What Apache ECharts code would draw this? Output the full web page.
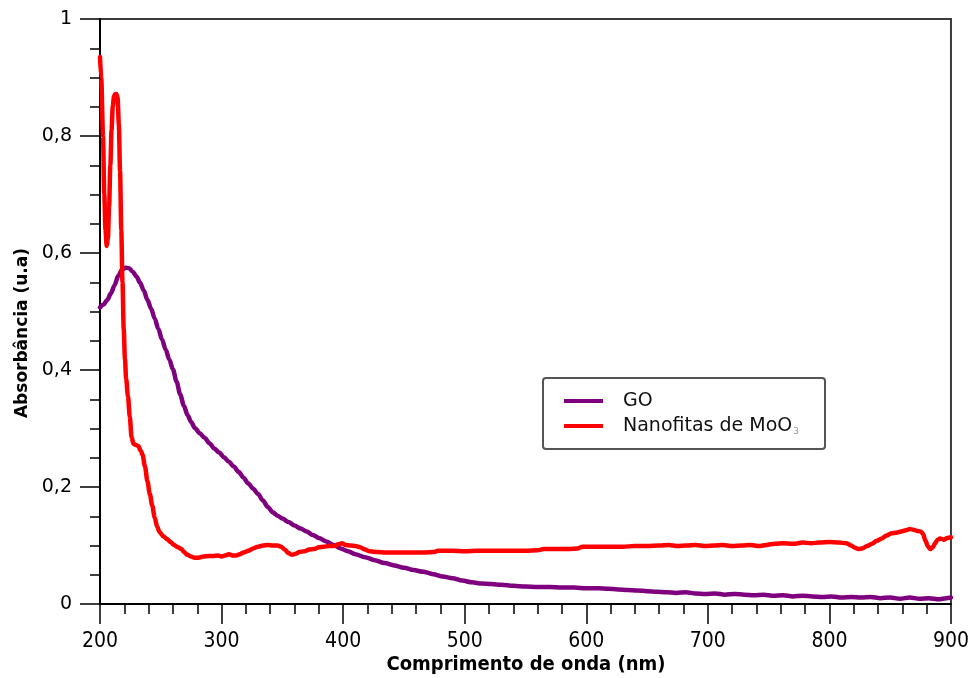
<!DOCTYPE html>
<html><head><meta charset="utf-8">
<script src="https://cdn.jsdelivr.net/npm/echarts@6/dist/echarts.min.js"></script>
<style>html,body{margin:0;padding:0;background:#fff}#c{width:972px;height:678px}</style>
</head><body><div id="c"></div>
<script>
// Wavelength (nm) and absorbance for GO
const goWavelength = [200,203,206,209,212,215,218,221,224,227,230,233,236,239,242,245,248,251,254,257,260,263,266,269,272,275,278,282,286,290,294,298,302,306,310,314,318,322,326,330,334,338,342,346,350,355,360,365,370,375,380,386,392,398,404,410,418,426,434,442,450,458,466,474,482,490,498,506,514,522,530,540,550,560,570,580,590,600,610,618,626,634,642,650,658,666,674,682,690,698,706,714,722,730,738,746,754,762,770,778,786,794,802,810,818,826,834,842,850,858,866,874,882,890,896,900];
const goAbsorbance = [0.507,0.512,0.52,0.531,0.545,0.561,0.571,0.575,0.574,0.568,0.56,0.549,0.536,0.52,0.505,0.488,0.47,0.452,0.435,0.418,0.401,0.38,0.358,0.339,0.323,0.311,0.301,0.292,0.284,0.275,0.266,0.259,0.251,0.243,0.235,0.226,0.216,0.206,0.197,0.188,0.177,0.166,0.157,0.151,0.146,0.14,0.134,0.129,0.124,0.118,0.113,0.107,0.101,0.095,0.09,0.085,0.08,0.075,0.07,0.066,0.062,0.058,0.055,0.051,0.047,0.044,0.04,0.037,0.035,0.034,0.033,0.031,0.03,0.029,0.029,0.028,0.028,0.027,0.027,0.026,0.025,0.024,0.023,0.022,0.021,0.02,0.019,0.02,0.018,0.017,0.018,0.016,0.017,0.016,0.015,0.016,0.014,0.015,0.013,0.014,0.013,0.012,0.013,0.011,0.012,0.011,0.012,0.01,0.011,0.009,0.011,0.009,0.01,0.008,0.01,0.011];

// Wavelength (nm) and absorbance for MoO3 nanoribbons
const moWavelength = [200,201,202.5,203.5,204.5,205.5,206.5,207.5,208.5,209.5,210.5,211.5,212.5,213.5,214.5,215.5,216.5,217.5,218.5,219.5,220.5,221.5,223,224.5,226,227.5,229.5,231.5,233.5,235,237,239,241,243,245,247,249,252,255,258,261,264,267,269,272,275,278,281,285,289,293,297,300,303,306,309,312,315,318,322,326,330,334,338,342,346,349,352,355,358,361,364,368,372,376,380,384,388,392,396,399,402,406,410,414,418,422,428,435,445,455,465,475,478,490,500,510,520,530,540,550,560,565,575,585,593,597,610,620,630,640,650,660,668,675,682,690,698,705,712,720,728,735,742,748,755,762,770,778,785,792,800,808,814,818,821,824,827,831,835,839,843,847,851,855,859,863,866,869,872,875,877,879,881,883,885,887,889,891,894,897,900];
const moAbsorbance = [0.935,0.9,0.8,0.7,0.64,0.612,0.625,0.68,0.75,0.81,0.85,0.868,0.872,0.872,0.865,0.82,0.74,0.64,0.55,0.47,0.42,0.385,0.355,0.32,0.285,0.274,0.272,0.27,0.262,0.255,0.235,0.21,0.188,0.168,0.148,0.132,0.123,0.116,0.111,0.106,0.101,0.097,0.094,0.089,0.084,0.081,0.079,0.079,0.081,0.082,0.082,0.083,0.081,0.083,0.085,0.083,0.083,0.085,0.088,0.091,0.095,0.098,0.1,0.101,0.1,0.1,0.098,0.093,0.087,0.084,0.086,0.089,0.09,0.093,0.094,0.097,0.098,0.099,0.099,0.102,0.104,0.101,0.1,0.099,0.097,0.093,0.09,0.089,0.088,0.088,0.088,0.088,0.089,0.091,0.091,0.09,0.091,0.091,0.091,0.091,0.091,0.092,0.094,0.094,0.094,0.095,0.098,0.098,0.098,0.098,0.099,0.099,0.1,0.101,0.099,0.1,0.101,0.099,0.1,0.101,0.099,0.1,0.101,0.099,0.101,0.103,0.104,0.103,0.105,0.104,0.105,0.106,0.105,0.104,0.1,0.096,0.094,0.095,0.099,0.103,0.108,0.112,0.117,0.121,0.122,0.124,0.126,0.128,0.127,0.125,0.124,0.12,0.108,0.099,0.094,0.097,0.104,0.11,0.112,0.11,0.113,0.114];

const xTickValues = [200,300,400,500,600,700,800,900];
const yTickValues = [0,0.2,0.4,0.6,0.8,1];
const seriesNames = ['GO','Nanofitas de MoO3'];
const xTitle = 'Comprimento de onda (nm)';
const yTitle = 'Absorbância (u.a)';

const zip = (xs, ys) => xs.map((x, i) => [x, ys[i]]);

const chart = echarts.init(document.getElementById('c'), null, {renderer: 'canvas'});
const axisCommon = {
  axisLine: {show: true, onZero: false, lineStyle: {color: '#000', width: 2}},
  axisTick: {show: true, length: 20, lineStyle: {color: '#000', width: 1.5}},
  minorTick: {show: true, length: 10, lineStyle: {color: '#000', width: 1.5}},
  splitLine: {show: false}
};
chart.setOption({
  animation: false,
  backgroundColor: '#fff',
  grid: {left: 100, right: 18, top: 19, bottom: 74, show: true, borderColor: '#3c3c3c', borderWidth: 2, backgroundColor: 'transparent'},
  xAxis: Object.assign({}, axisCommon, {
    type: 'value', min: xTickValues[0], max: xTickValues[xTickValues.length - 1], interval: 100,
    minorTick: Object.assign({}, axisCommon.minorTick, {splitNumber: 5}),
    axisLabel: {margin: 27, fontFamily: 'DejaVu Sans Condensed', fontSize: 21, color: '#000'}
  }),
  yAxis: Object.assign({}, axisCommon, {
    type: 'value', min: yTickValues[0], max: yTickValues[yTickValues.length - 1], interval: 0.2,
    minorTick: Object.assign({}, axisCommon.minorTick, {splitNumber: 4}),
    axisLabel: {margin: 28, fontFamily: 'DejaVu Sans', fontSize: 19, color: '#000',
      formatter: v => String(Math.round(v * 10) / 10).replace('.', ',')}
  }),
  legend: {
    orient: 'vertical', left: 543, top: 378,
    padding: [13, 26, 13, 21],
    borderColor: '#555', borderWidth: 2, borderRadius: 3,
    backgroundColor: '#fff',
    itemWidth: 39, itemHeight: 4, itemGap: 5, icon: 'rect',
    data: seriesNames,
    formatter: name => name === 'GO' ? '{t|GO}' : '{t|' + name.slice(0, -1) + '}{s|' + name.slice(-1) + '}',
    textStyle: {
      fontFamily: 'DejaVu Sans', fontSize: 19, color: '#111', lineHeight: 20,
      rich: {
        t: {fontFamily: 'DejaVu Sans', fontSize: 19, color: '#111', padding: [0, 0, 0, 15], lineHeight: 20},
        s: {fontFamily: 'DejaVu Sans', fontSize: 9, color: '#999', verticalAlign: 'bottom', lineHeight: 12, padding: [6, 0, 0, 1]}
      }
    }
  },
  graphic: [
    {type: 'text', left: 'center', x: 0, style: {text: ''}},
  ],
  series: [
    {name: seriesNames[0], type: 'line', data: zip(goWavelength, goAbsorbance), showSymbol: false, symbol: 'none',
      smooth: 0.3, smoothMonotone: 'x', z: 2,
      lineStyle: {color: '#7e007e', width: 4.5, cap: 'round', join: 'round'}, itemStyle: {color: '#7e007e'}},
    {name: seriesNames[1], type: 'line', data: zip(moWavelength, moAbsorbance), showSymbol: false, symbol: 'none',
      smooth: 0.3, smoothMonotone: 'x', z: 3,
      lineStyle: {color: '#ff0000', width: 4.5, cap: 'round', join: 'round'}, itemStyle: {color: '#ff0000'}}
  ]
});
chart.setOption({
  graphic: [
    {type: 'text', id: 'xt', x: 526, y: 665, style: {text: xTitle, fontFamily: 'DejaVu Sans Condensed', fontWeight: 'bold', fontSize: 20, fill: '#000', textAlign: 'center', textVerticalAlign: 'middle'}},
    {type: 'text', id: 'yt', x: 23, y: 333, rotation: Math.PI / 2, style: {text: yTitle, fontFamily: 'DejaVu Sans', fontWeight: 'bold', fontSize: 17, fill: '#000', textAlign: 'center', textVerticalAlign: 'middle'}}
  ]
}, {replaceMerge: ['graphic']});
</script>
</body></html>
